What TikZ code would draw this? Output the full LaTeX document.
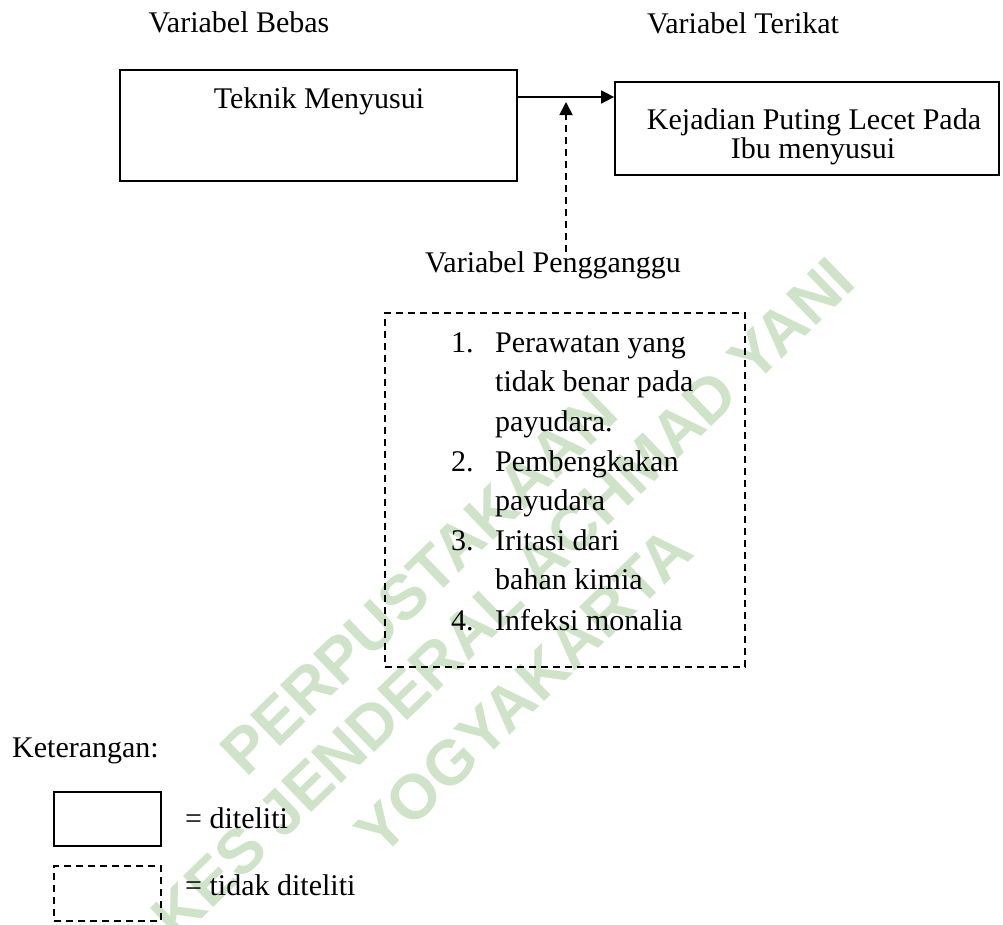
\documentclass[tikz,border=0pt]{standalone}
\usepackage{fontspec}
\setmainfont{Liberation Serif}
\newfontfamily\wmfont{Liberation Sans}
\usetikzlibrary{arrows.meta}
\definecolor{wm}{RGB}{207,227,200}
\tikzset{
  txt/.style={inner sep=0pt, font=\fontsize{30}{36}\selectfont},
  lb/.style={txt, anchor=base west},
  cb/.style={txt, anchor=base},
  solidbox/.style={draw, line width=1.8pt, inner sep=0pt},
  dashbox/.style={draw, line width=1.8pt, inner sep=0pt, dash pattern=on 7pt off 5pt},
  wmtext/.style={text=wm, font=\wmfont\bfseries\fontsize{63}{63}\selectfont, rotate=44, inner sep=0pt, anchor=center},
  arr/.style={line width=1.8pt, -{Triangle[length=13pt,width=13pt]}},
}
\begin{document}
\begin{tikzpicture}[x=1pt,y=-1pt]
\useasboundingbox (0,0) rectangle (1003,924);
% watermark
\node[wmtext] (wm1) at (419,582) {PERPUSTAKAAN};
\node[wmtext] (wm2) at (503,598) {KES JENDERAL ACHMAD YANI};
\node[wmtext] (wm3) at (524,691) {YOGYAKARTA};
% headings
\node[cb] (hbebas) at (239,32) {Variabel Bebas};
\node[cb] (hterikat) at (743,33) {Variabel Terikat};
% boxes
\node[solidbox, minimum width=397pt, minimum height=111pt] (tek) at (318.5,125.5) {};
\node[cb] (tektxt) at (319,108) {Teknik Menyusui};
\node[solidbox, minimum width=384pt, minimum height=93pt] (kej) at (807,128.5) {};
\node[cb] (kejtxt1) at (814,129) {Kejadian Puting Lecet Pada};
\node[cb] (kejtxt2) at (813,158) {Ibu menyusui};
% arrows
\coordinate (ay) at (0,97);
\draw[arr] (tek.east |- ay) -- (kej.west |- ay);
\coordinate (dbot) at (566,252);
\coordinate (dtip) at (566,102);
\draw[arr, dash pattern=on 7pt off 5pt] (dbot) -- (dtip);
% confounder
\node[cb] (peng) at (553,272) {Variabel Pengganggu};
\node[dashbox, minimum width=360pt, minimum height=354pt] (pbox) at (565,490) {};
\node[lb] (n1) at (451,352) {1.};
\node[lb] (l1a) at (495,352) {Perawatan yang};
\node[lb] (l1b) at (495,391) {tidak benar pada};
\node[lb] (l1c) at (495,431) {payudara.};
\node[lb] (n2) at (451,471) {2.};
\node[lb] (l2a) at (495,471) {Pembengkakan};
\node[lb] (l2b) at (495,510) {payudara};
\node[lb] (n3) at (451,550) {3.};
\node[lb] (l3a) at (495,550) {Iritasi dari};
\node[lb] (l3b) at (495,589) {bahan kimia};
\node[lb] (n4) at (451,630) {4.};
\node[lb] (l4a) at (495,630) {Infeksi monalia};
% legend
\node[lb] (ket) at (12,757) {Keterangan:};
\node[solidbox, minimum width=107pt, minimum height=54pt] (lgs) at (107.5,819) {};
\node[lb] (lgstxt) at (185,828) {= diteliti};
\node[dashbox, minimum width=107pt, minimum height=55pt] (lgd) at (107.5,893.5) {};
\node[lb] (lgdtxt) at (185,895) {= tidak diteliti};
\end{tikzpicture}
\end{document}
